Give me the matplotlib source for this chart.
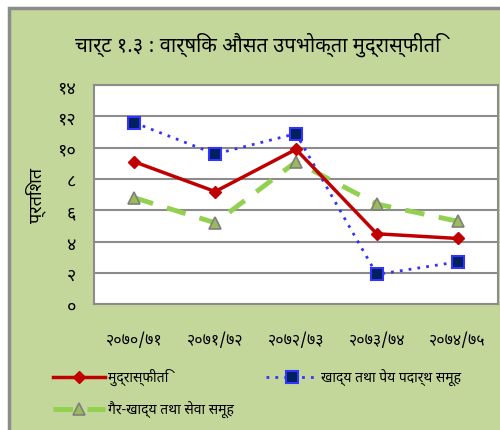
import numpy as np
import matplotlib
matplotlib.use('Agg')
import matplotlib.pyplot as plt
from matplotlib.patches import Rectangle

plt.rcParams['font.family'] = ['Noto Sans Devanagari', 'Lohit Devanagari', 'Mukta',
                               'Noto Sans', 'DejaVu Sans']

years = ['२०७०/७१', '२०७१/७२', '२०७२/७३', '२०७३/७४', '२०७४/७५']
inflation = [9.1, 7.2, 9.9, 4.5, 4.2]
food = [11.6, 9.6, 10.9, 1.9, 2.7]
nonfood = [6.8, 5.2, 9.1, 6.4, 5.3]
yticks = [0, 2, 4, 6, 8, 10, 12, 14]
ytick_labels = ['०', '२', '४', '६', '८', '१०', '१२', '१४']

fig = plt.figure(figsize=(5, 4.31), dpi=100)
fig.patch.set_facecolor('white')
bg = Rectangle((0.018, -0.05), 1.1, 1.029, transform=fig.transFigure,
               facecolor='#C4D79B', edgecolor='#8C8C8C', linewidth=2.5, zorder=-5)
fig.patches.append(bg)

ax = fig.add_axes([0.188, 0.292, 0.808, 0.508])
ax.set_zorder(2)
x = np.arange(len(years))

ax.plot(x, inflation, color='#C00000', lw=2.5, marker='D', ms=6,
        mfc='#C00000', mec='#C00000', label='मुद्रास्फीति', zorder=4)
ax.plot(x, food, color='#3333FF', lw=2, ls=(0, (1, 2.2)), marker='s', ms=8,
        mfc='#002060', mec='#3333FF', mew=1.5, label='खाद्य तथा पेय पदार्थ समूह', zorder=3)
ax.plot(x, nonfood, color='#92D050', lw=3.5, ls=(0, (4, 3)), marker='^', ms=8,
        mfc='#9BBB59', mec='#7F7F7F', mew=1.2, label='गैर-खाद्य तथा सेवा समूह', zorder=2)

ax.set_xlim(-0.5, 4.5)
ax.set_ylim(0, 14)
ax.set_yticks(yticks)
ax.set_yticklabels(ytick_labels, fontsize=13)
ax.set_xticks(x)
ax.set_xticklabels(years, fontsize=11.5)
ax.tick_params(length=0)
ax.tick_params(axis='y', pad=13)
ax.tick_params(axis='x', pad=20)
ax.grid(axis='y', color='#8C8C8C', lw=1.5)
ax.set_axisbelow(True)
for s in ax.spines.values():
    s.set_color('#8C8C8C')
    s.set_linewidth(1.5)
ax.set_ylabel('प्रतिशत', fontsize=13, labelpad=8)

fig.text(0.516, 0.895, 'चार्ट १.३ : वार्षिक औसत उपभोक्ता मुद्रास्फीति',
         ha='center', va='center', fontsize=14.5)

h, l = ax.get_legend_handles_labels()
fig.legend(h[:2], l[:2], loc='center left', bbox_to_anchor=(0.08, 0.123),
           ncol=2, frameon=False, fontsize=10, handlelength=3.8,
           columnspacing=7.0, handletextpad=0.2)
fig.legend(h[2:], l[2:], loc='center left', bbox_to_anchor=(0.08, 0.048),
           frameon=False, fontsize=10, handlelength=3.8, handletextpad=0.2)

fig.savefig('out.png', dpi=100, facecolor=fig.get_facecolor())
